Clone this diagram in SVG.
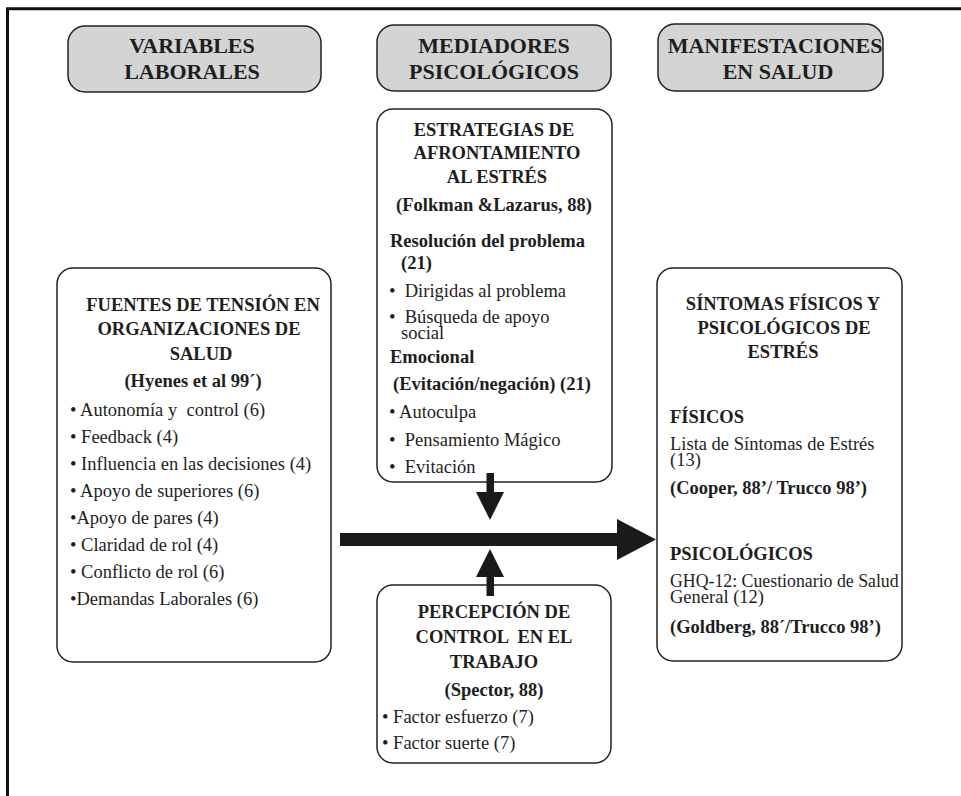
<svg xmlns="http://www.w3.org/2000/svg" width="961" height="796" viewBox="0 0 961 796">
<style>
text{font-family:"Liberation Serif","Times New Roman",serif;fill:#1e1e1e;white-space:pre}
.h{font-size:22px;font-weight:bold;text-anchor:middle}
.b{font-size:18.5px;font-weight:bold}
.c{text-anchor:middle}
.r{font-size:18.5px}
.hdr{fill:#d4d4d4;stroke:#222;stroke-width:1.5}
.box{fill:#fff;stroke:#222;stroke-width:1.5}
.arr{fill:#1a1a1a}
</style>
<rect width="961" height="796" fill="#fff"/>
<path d="M7.5,796 V8.8 H961" fill="none" stroke="#111" stroke-width="3"/>

<g id="hdr-variables">
<rect class="hdr" x="68" y="26" width="253" height="66" rx="17"/>
<text class="h" x="192" y="53">VARIABLES</text>
<text class="h" x="192" y="79">LABORALES</text>
</g>
<g id="hdr-mediadores">
<rect class="hdr" x="377" y="25" width="234" height="66" rx="17"/>
<text class="h" x="494" y="53">MEDIADORES</text>
<text class="h" x="494" y="79">PSICOLÓGICOS</text>
</g>
<g id="hdr-manifestaciones">
<rect class="hdr" x="658" y="24" width="225" height="67" rx="17"/>
<text class="h" x="775" y="53">MANIFESTACIONES</text>
<text class="h" x="778" y="79">EN SALUD</text>
</g>

<g id="fuentes">
<rect class="box" x="57" y="268" width="274" height="394" rx="16"/>
<text class="b c" x="203" y="311">FUENTES DE TENSIÓN EN</text>
<text class="b c" x="199" y="335">ORGANIZACIONES DE</text>
<text class="b c" x="201" y="360">SALUD</text>
<text class="b c" x="193" y="387">(Hyenes et al 99´)</text>
<text class="r" x="70" y="416">• Autonomía y  control (6)</text>
<text class="r" x="70" y="443">• Feedback (4)</text>
<text class="r" x="70" y="470">• Influencia en las decisiones (4)</text>
<text class="r" x="70" y="497">• Apoyo de superiores (6)</text>
<text class="r" x="70" y="524">•Apoyo de pares (4)</text>
<text class="r" x="70" y="551">• Claridad de rol (4)</text>
<text class="r" x="70" y="578">• Conflicto de rol (6)</text>
<text class="r" x="70" y="605">•Demandas Laborales (6)</text>
</g>

<g id="estrategias">
<rect class="box" x="377" y="109" width="235" height="373" rx="16"/>
<text class="b c" x="494" y="136">ESTRATEGIAS DE</text>
<text class="b c" x="497" y="159">AFRONTAMIENTO</text>
<text class="b c" x="497" y="183">AL ESTRÉS</text>
<text class="b c" x="494" y="211">(Folkman &amp;Lazarus, 88)</text>
<text class="b" x="390" y="247">Resolución del problema</text>
<text class="b" x="401" y="269">(21)</text>
<text class="r" x="389" y="297">•  Dirigidas al problema</text>
<text class="r" x="389" y="323">•  Búsqueda de apoyo</text>
<text class="r" x="401" y="339">social</text>
<text class="b" x="390" y="363">Emocional</text>
<text class="b" x="393" y="390">(Evitación/negación) (21)</text>
<text class="r" x="389" y="418">• Autoculpa</text>
<text class="r" x="389" y="446">•  Pensamiento Mágico</text>
<text class="r" x="389" y="473">•  Evitación</text>
</g>

<g id="percepcion">
<rect class="box" x="377" y="585" width="234" height="178" rx="16"/>
<text class="b c" x="494" y="618">PERCEPCIÓN DE</text>
<text class="b c" x="494" y="643">CONTROL  EN EL</text>
<text class="b c" x="494" y="668">TRABAJO</text>
<text class="b c" x="494" y="696">(Spector, 88)</text>
<text class="r" x="382" y="723">• Factor esfuerzo (7)</text>
<text class="r" x="382" y="749">• Factor suerte (7)</text>
</g>

<g id="sintomas">
<rect class="box" x="657" y="268" width="245" height="393" rx="16"/>
<text class="b c" x="783" y="310">SÍNTOMAS FÍSICOS Y</text>
<text class="b c" x="784" y="334">PSICOLÓGICOS DE</text>
<text class="b c" x="783" y="358">ESTRÉS</text>
<text class="b" x="670" y="423">FÍSICOS</text>
<text class="r" x="670" y="450">Lista de Síntomas de Estrés</text>
<text class="r" x="670" y="466">(13)</text>
<text class="b" x="670" y="494">(Cooper, 88’/ Trucco 98’)</text>
<text class="b" x="670" y="560">PSICOLÓGICOS</text>
<text class="r" x="670" y="587" style="font-size:17.8px">GHQ-12: Cuestionario de Salud</text>
<text class="r" x="670" y="603">General (12)</text>
<text class="b" x="670" y="633">(Goldberg, 88´/Trucco 98’)</text>
</g>

<g id="connectors">
<rect class="arr" x="340" y="533" width="277" height="13"/>
<polygon class="arr" points="617,519 656,539.5 617,560"/>
<rect class="arr" x="486.5" y="473" width="7.5" height="20"/>
<polygon class="arr" points="476,492 504,492 490,520"/>
<rect class="arr" x="486.5" y="576" width="7.5" height="20"/>
<polygon class="arr" points="490,549 476,577 504,577"/>
</g>
</svg>
